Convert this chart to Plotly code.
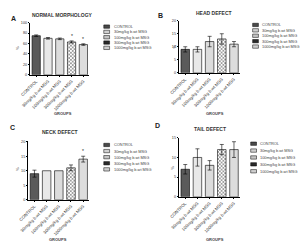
import plotly.graph_objects as go

# ---------------- data ----------------
groups = ["CONTROL", "30mg/kg b.wt MSG", "100mg/kg b.wt MSG",
          "300mg/kg b.wt MSG", "1000mg/kg b.wt MSG"]

normal_vals = [75, 70, 69, 63, 58]
normal_err = [1.5, 1.5, 1.5, 2, 1.5]
normal_sig = ["", "", "", "*", "*"]

head_vals = [9, 9, 12, 13, 11]
head_err = [1, 1, 2, 2, 1]
head_sig = ["", "", "", "", ""]

neck_vals = [9, 10, 10, 11, 14]
neck_err = [1.2, 0, 0, 1, 1]
neck_sig = ["", "", "", "", "*"]

tail_vals = [7, 10, 8, 12, 12]
tail_err = [1.2, 2.2, 1.2, 1.3, 2]
tail_sig = ["", "", "", "", ""]

panel_titles = ["NORMAL MORPHOLOGY", "HEAD DEFECT", "NECK DEFECT", "TAIL DEFECT"]
panel_letters = ["A", "B", "C", "D"]
y_ranges = [[0, 100], [0, 20], [0, 20], [0, 15]]
y_dticks = [20, 5, 5, 5]

# ---------------- styles ----------------
W, H = 300, 249
FONT = "Liberation Sans, Arial, sans-serif"
bar_styles = [
    dict(color="#5a5a5a", pattern=dict(shape="")),
    dict(color="#ffffff", pattern=dict(shape="-", fgcolor="#8a8a8a", bgcolor="#ffffff", size=2, solidity=0.4)),
    dict(color="#d8d8d8", pattern=dict(shape="-", fgcolor="#bdbdbd", bgcolor="#e0e0e0", size=2, solidity=0.3)),
    dict(color="#ffffff", pattern=dict(shape="x", fgcolor="#111111", bgcolor="#ffffff", size=2.5, solidity=0.5)),
    dict(color="#dcdcdc", pattern=dict(shape="|", fgcolor="#b5b5b5", bgcolor="#e4e4e4", size=2, solidity=0.3)),
]
legend_key_colors = ["#4a4a4a", "#d0d0d0", "#c4c4c4", "#2a2a2a", "#cfcfcf"]

def px_x(p):
    return p / W

def px_y(p):
    return 1 - p / H

def note(x, y, text, size, color="#444", xanchor="center", angle=0):
    return dict(x=px_x(x), y=px_y(y), xref="paper", yref="paper", text=text,
                showarrow=False, xanchor=xanchor, yanchor="middle", textangle=angle,
                font=dict(size=size, color=color, family=FONT))

# panel geometry in pixels: (x0, x1, ybottom, ytop)
geom = [(21, 82, 74, 21), (175, 238, 72, 19), (19, 82, 201, 142), (175, 238, 198, 138)]
legend_geom = [  # key x, first row y, row step
    (97, 25, 5.4), (251, 23.3, 5.5), (97, 145.3, 6.2), (249, 144, 7.0)]
title_pos = [(54, 13), (211, 11), (52, 132), (207, 129)]
letter_pos = [(4, 17), (156, 14), (3, 128), (153, 126)]
groups_pos = [(55, 113), (212, 113), (50, 241), (212, 241)]
pct_pos = [(8, 47), (170, 45), (8, 170), (168, 168)]

panels = [(normal_vals, normal_err, normal_sig), (head_vals, head_err, head_sig),
          (neck_vals, neck_err, neck_sig), (tail_vals, tail_err, tail_sig)]

fig = go.Figure()
annotations = []
shapes = []

for pi, (vals, errs, sigs) in enumerate(panels):
    sfx = "" if pi == 0 else str(pi + 1)
    xa, ya = "x" + sfx, "y" + sfx
    for gi, g in enumerate(groups):
        st = bar_styles[gi]
        fig.add_trace(go.Bar(
            x=[g], y=[vals[gi]], xaxis=xa, yaxis=ya, showlegend=False,
            marker=dict(color=st["color"], pattern=st["pattern"],
                        line=dict(color="#000000", width=0.6)),
            error_y=dict(type="data", array=[errs[gi]], color="#000000",
                         thickness=0.6, width=2, visible=errs[gi] > 0),
        ))
        if sigs[gi]:
            annotations.append(dict(x=g, y=vals[gi] + errs[gi], xref=xa, yref=ya,
                                    text=sigs[gi], showarrow=False, xanchor="center",
                                    yanchor="bottom",
                                    font=dict(size=5, color="#222", family=FONT)))
    x0, x1, yb, yt = geom[pi]
    axkey = "xaxis" + sfx
    aykey = "yaxis" + sfx
    fig.layout[axkey] = dict(
        domain=[px_x(x0), px_x(x1)], anchor=ya, type="category",
        showline=True, linecolor="#000", linewidth=0.7, ticks="outside",
        ticklen=1.5, tickwidth=0.6, tickcolor="#000", tickangle=-45,
        tickfont=dict(size=4.3, color="#333", family=FONT), showgrid=False,
        zeroline=False, fixedrange=True)
    fig.layout[aykey] = dict(
        domain=[px_y(yb), px_y(yt)], anchor=xa, range=y_ranges[pi],
        dtick=y_dticks[pi], showline=True, linecolor="#000", linewidth=0.7,
        ticks="outside", ticklen=1.5, tickwidth=0.6, tickcolor="#000",
        tickfont=dict(size=3.8, color="#333", family=FONT), showgrid=False,
        zeroline=False, fixedrange=True)

    # titles and labels
    tx, ty = title_pos[pi]
    annotations.append(note(tx, ty, "<b>" + panel_titles[pi] + "</b>", 5, "#333"))
    lx, ly = letter_pos[pi]
    annotations.append(note(lx, ly, "<b>" + panel_letters[pi] + "</b>", 7, "#222"))
    gx, gy = groups_pos[pi]
    annotations.append(note(gx, gy, "<b>GROUPS</b>", 4, "#444"))
    qx, qy = pct_pos[pi]
    annotations.append(note(qx, qy, "%", 4, "#444", angle=-90))

    # legend
    kx, ky, step = legend_geom[pi]
    for gi, g in enumerate(groups):
        yy = ky + gi * step
        shapes.append(dict(type="rect", xref="paper", yref="paper",
                           x0=px_x(kx), x1=px_x(kx + 6), y0=px_y(yy + 1.7), y1=px_y(yy - 1.7),
                           fillcolor=legend_key_colors[gi], line=dict(color="#000", width=0.5)))
        annotations.append(note(kx + 8, yy, g, 3.9, "#444", xanchor="left"))

fig.update_layout(
    width=W, height=H, margin=dict(l=0, r=0, t=0, b=0),
    paper_bgcolor="#ffffff", plot_bgcolor="#ffffff",
    barmode="group", bargap=0.3, showlegend=False,
    annotations=annotations, shapes=shapes,
)

fig.write_html("out.html")
